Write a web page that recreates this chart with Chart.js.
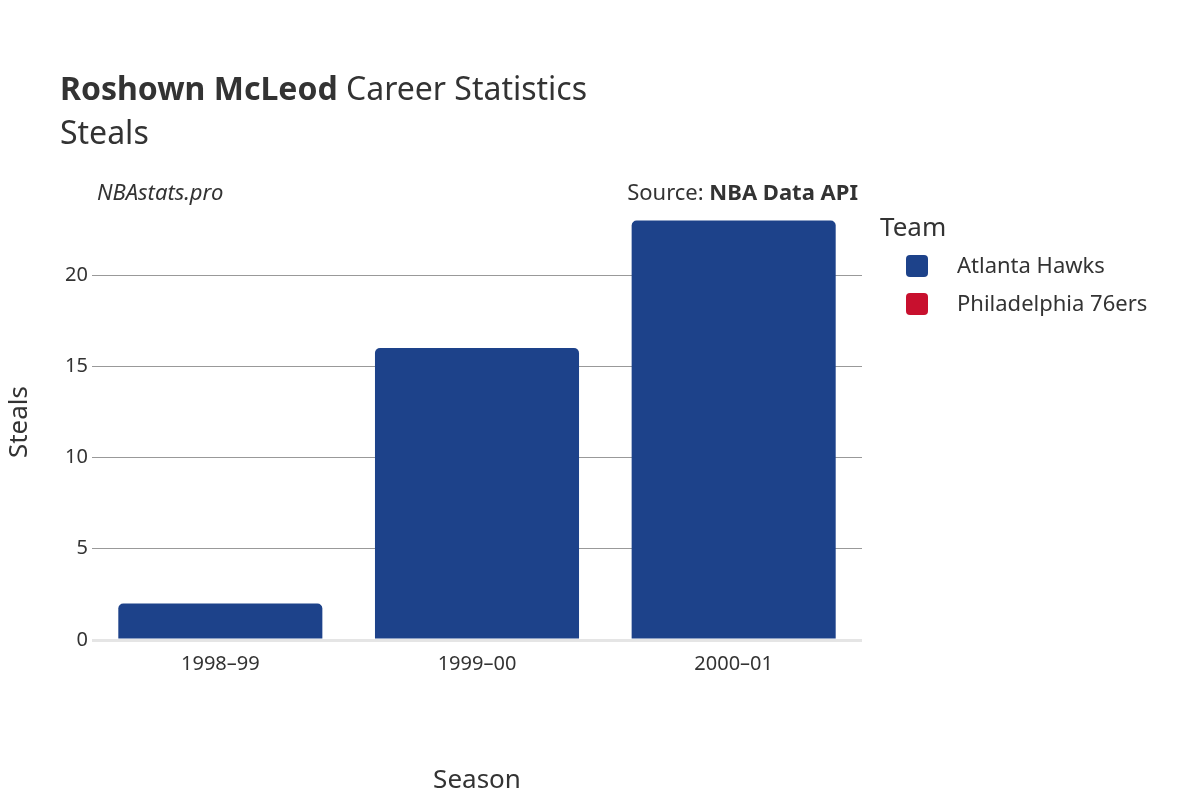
<!DOCTYPE html>
<html><head><meta charset="utf-8">
<script src="https://cdn.jsdelivr.net/npm/chart.js@4"></script>
<style>html,body{margin:0;padding:0;background:#fff}#w{width:1200px;height:800px}</style>
</head><body><div id="w"><canvas id="c"></canvas></div>
<script>
const seasons = ["1998–99", "1999–00", "2000–01"];
const hawks = [2, 16, 23];
const sixers = [null, null, null];
const teams = ["Atlanta Hawks", "Philadelphia 76ers"];
const teamColors = ["#1d428a", "#c8102e"];
const yTicks = [0, 5, 10, 15, 20];
const F = "'Noto Sans', 'DejaVu Sans', sans-serif";
const txt = {
  id: 'txt',
  afterDraw(ch) {
    const c = ch.ctx; c.save(); c.fillStyle = '#333'; c.textBaseline = 'alphabetic';
    c.font = 'bold 32px ' + F; c.textAlign = 'left';
    c.fillText('Roshown McLeod', 60, 100);
    const w = c.measureText('Roshown McLeod ').width;
    c.font = '32px ' + F; c.fillText('Career Statistics', 60 + w, 100);
    c.fillText('Steals', 60, 144);
    c.font = 'italic 22px ' + F; c.fillText('NBAstats.pro', 97, 200);
    c.textAlign = 'right'; c.font = 'bold 22px ' + F; c.fillText('NBA Data API', 858, 200);
    const bw = c.measureText('NBA Data API').width;
    c.font = '22px ' + F; c.fillText('Source: ', 858 - bw, 200);
    c.textAlign = 'left'; c.font = '26px ' + F; c.fillText('Team', 880, 236);
    c.font = '22px ' + F;
    teams.forEach((t, i) => {
      const y = 266 + i * 38;
      c.fillStyle = teamColors[i];
      c.beginPath(); c.roundRect(906, y - 11, 22, 22, 4); c.fill();
      c.fillStyle = '#333'; c.textBaseline = 'middle'; c.fillText(t, 957, y + 1);
    });
    c.restore();
  }
};
new Chart(document.getElementById('c'), {
  type: 'bar',
  data: { labels: seasons, datasets: [
    { label: teams[0], data: hawks, backgroundColor: teamColors[0], borderRadius: 5, borderSkipped: 'bottom' },
    { label: teams[1], data: sixers, backgroundColor: teamColors[1], borderRadius: 5, borderSkipped: 'bottom' }
  ]},
  options: {
    responsive: true, maintainAspectRatio: false, animation: false,
    layout: { padding: { top: 204, right: 338, left: 0, bottom: 0 } },
    plugins: { legend: { display: false }, title: { display: false }, tooltip: { enabled: false } },
    datasets: { bar: { categoryPercentage: 0.795, barPercentage: 1 } },
    scales: {
      x: { stacked: true, grid: { display: false }, border: { display: false },
        ticks: { color: '#333', font: { family: F, size: 20 }, padding: 4 },
        title: { display: true, text: 'Season', color: '#333', font: { family: F, size: 26 }, padding: { top: 18 } },
        afterFit(s) { s.height = 160; } },
      y: { stacked: true, min: 0, max: 23.9, border: { display: false },
        afterBuildTicks(s) { s.ticks = yTicks.map(v => ({ value: v })); },
        grid: { color: ctx => ctx.tick && ctx.tick.value === 0 ? '#e5e5e5' : '#999', lineWidth: ctx => ctx.tick && ctx.tick.value === 0 ? 3 : 1, drawTicks: false },
        ticks: { color: '#333', font: { family: F, size: 20 }, padding: 4 },
        title: { display: true, text: 'Steals', color: '#333', font: { family: F, size: 26 } },
        afterFit(s) { s.width = 92; } }
    }
  },
  plugins: [txt]
});
</script></body></html>
